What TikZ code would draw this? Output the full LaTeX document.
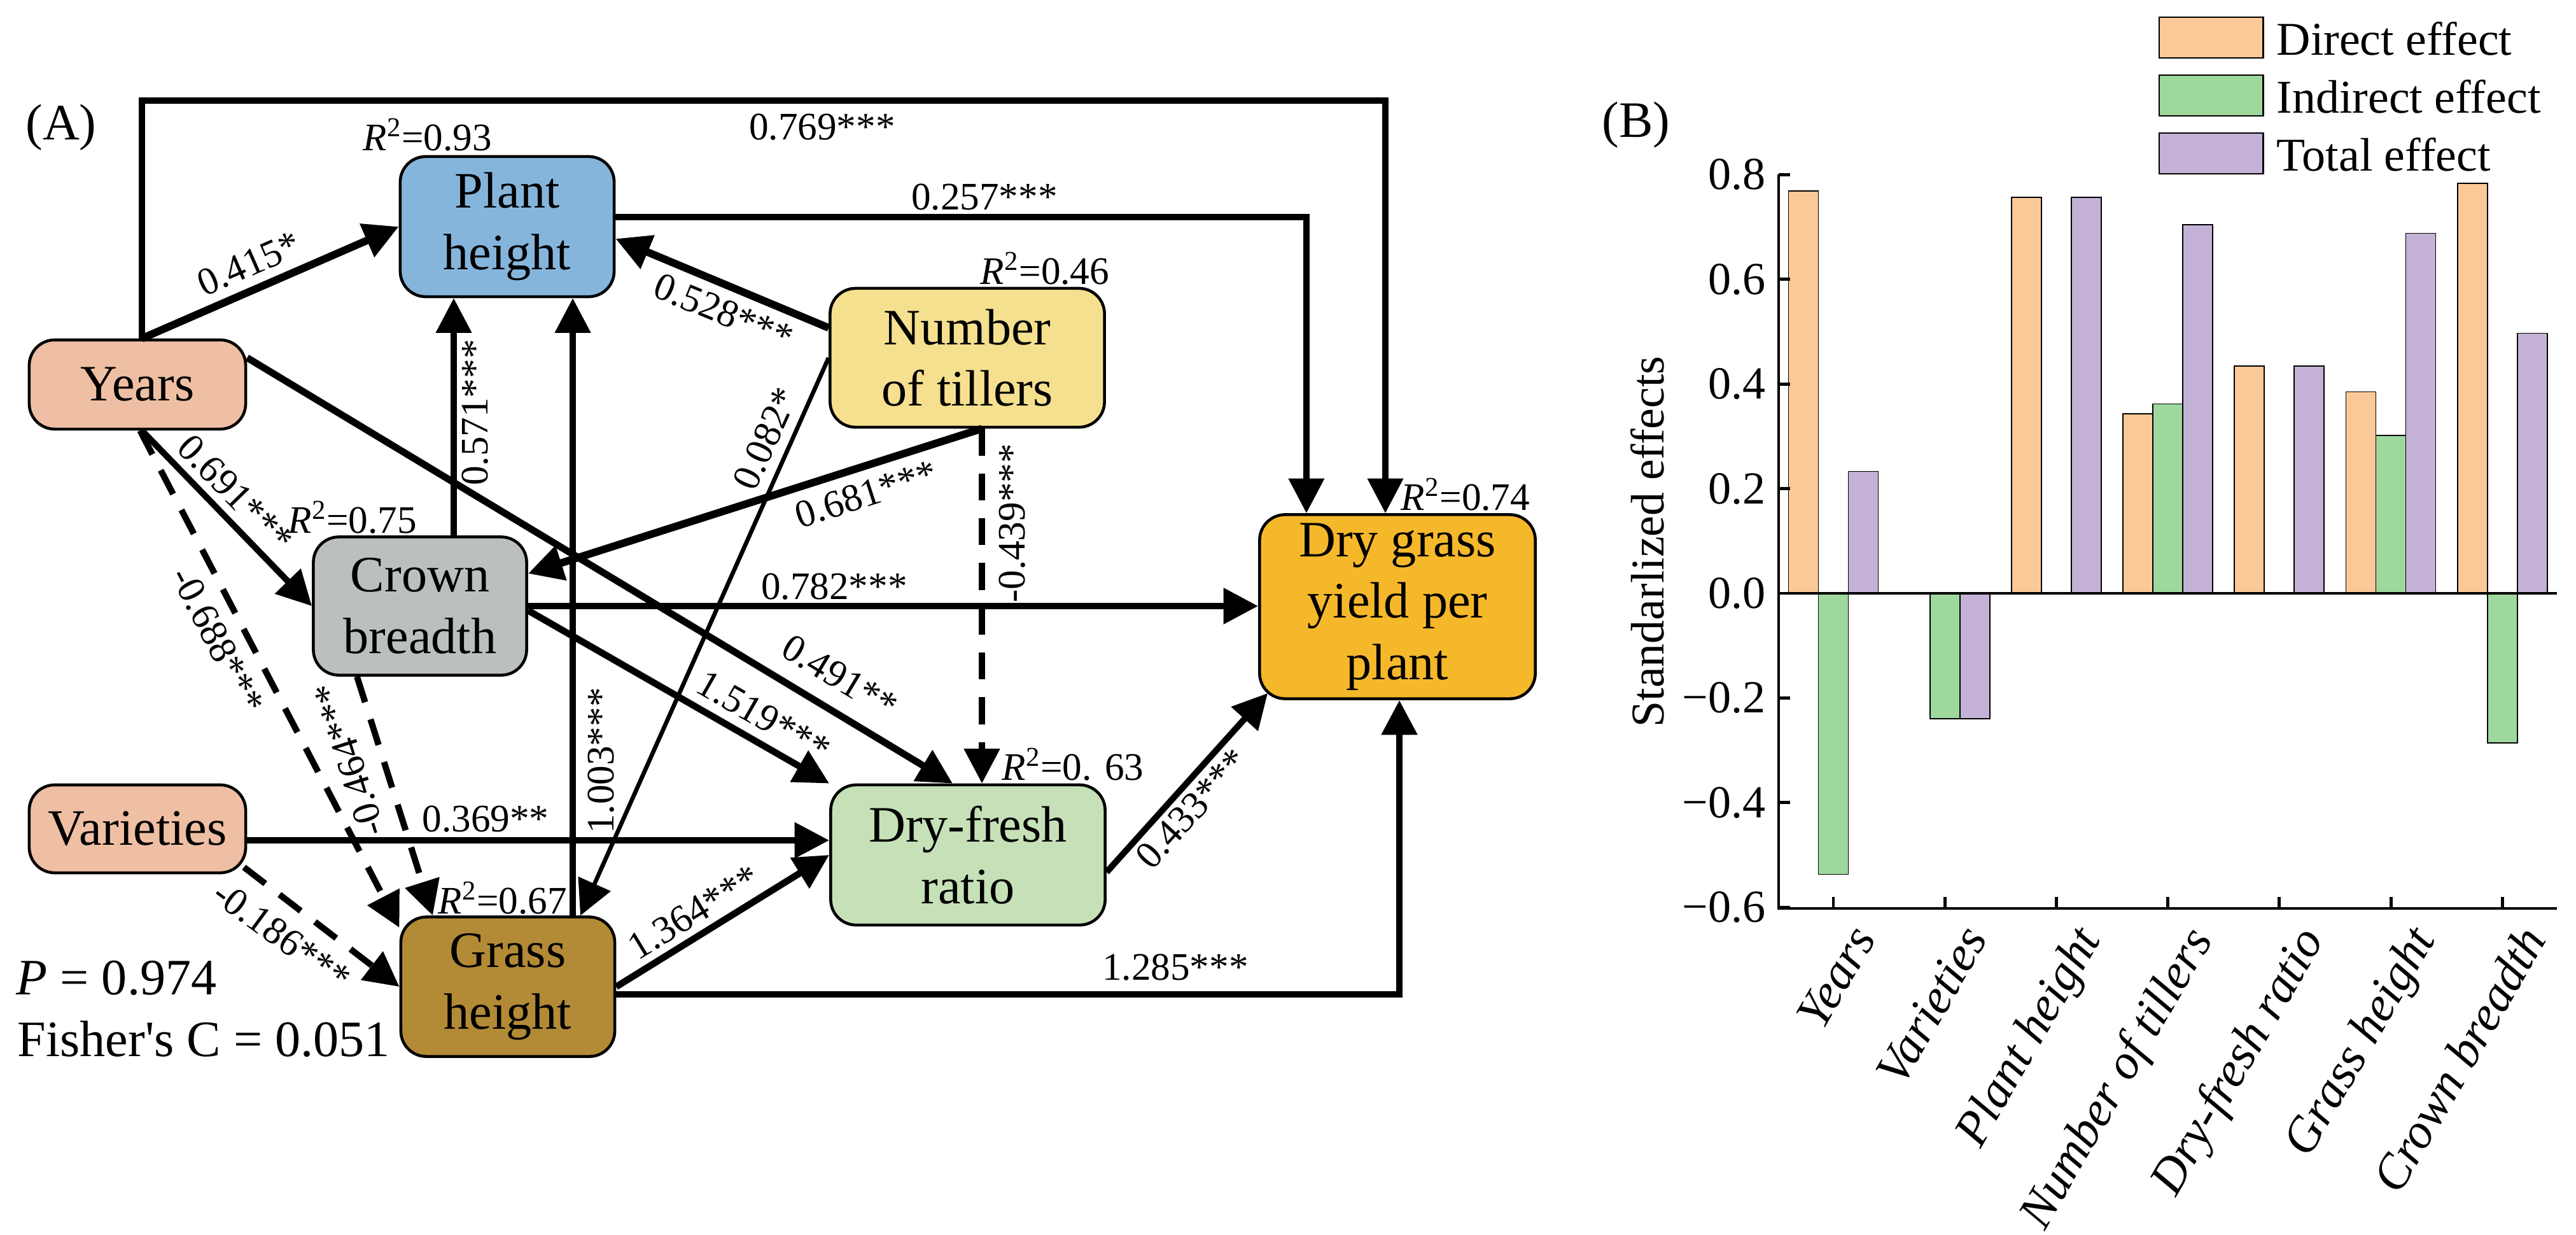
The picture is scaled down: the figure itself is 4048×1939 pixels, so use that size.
\documentclass[tikz,border=0pt]{standalone}
\usepackage{fontspec}
\setmainfont{Liberation Serif}[Ligatures=TeXOff]
\usetikzlibrary{arrows.meta}
\definecolor{cyrs}{RGB}{239,191,164}
\definecolor{cph}{RGB}{134,181,220}
\definecolor{cnt}{RGB}{245,224,143}
\definecolor{ccb}{RGB}{187,191,192}
\definecolor{cgh}{RGB}{179,138,53}
\definecolor{cdf}{RGB}{198,224,184}
\definecolor{cdg}{RGB}{246,184,43}
\definecolor{bdir}{RGB}{251,201,152}
\definecolor{bind}{RGB}{159,216,157}
\definecolor{btot}{RGB}{195,178,214}
\begin{document}
\begin{tikzpicture}[x=0.01cm,y=-0.01cm,
  box/.style={draw=black,line width=1.3pt,rounded corners=0.4cm,align=center,
    font=\fontsize{22.8}{27.4}\selectfont,inner sep=0pt},
  arr/.style={-{Triangle[length=15.5pt,width=15.5pt]},line width=#1},
  arr/.default=2.8pt,
  dsh/.style={dash pattern=on 12pt off 8pt},
  lab/.style={font=\fontsize{17.4}{20}\selectfont,inner sep=0pt},
  big/.style={font=\fontsize{22.8}{27}\selectfont,inner sep=0pt},
  tick/.style={font=\fontsize{20.5}{24}\selectfont,inner sep=0pt},
  bar/.style={draw=black,line width=0.5pt},
]
\useasboundingbox (0,0) rectangle (4048,1939);

% ---------------- Panel A nodes
\node[box,fill=cyrs,minimum width=3.40cm,minimum height=1.40cm] (yrs) at (216,604) {Years};
\node[box,fill=cyrs,minimum width=3.40cm,minimum height=1.38cm] (var) at (216,1302) {Varieties};
\node[box,fill=cph,minimum width=3.36cm,minimum height=2.20cm] (ph) at (797,356) {Plant\\height};
\node[box,fill=cnt,minimum width=4.31cm,minimum height=2.18cm] (nt) at (1520,562) {Number\\of tillers};
\node[box,fill=ccb,minimum width=3.35cm,minimum height=2.17cm] (cb) at (660,952) {Crown\\breadth};
\node[box,fill=cgh,minimum width=3.36cm,minimum height=2.19cm] (gh) at (798,1550) {Grass\\height};
\node[box,fill=cdf,minimum width=4.31cm,minimum height=2.20cm] (dfr) at (1521,1343) {Dry-fresh\\ratio};
\node[box,fill=cdg,minimum width=4.33cm,minimum height=2.89cm] (dgy) at (2196,953) {Dry grass\\yield per\\plant};

% helper coordinates
\coordinate (top) at (1000,158);
\coordinate (c571) at ([xshift=0.53cm]cb.north);
\coordinate (c1003) at ([xshift=1.02cm]gh.north);
\coordinate (c439) at ([xshift=0.23cm]nt.south);
\coordinate (c369) at ([yshift=-0.18cm]var.east);

% ---------------- Panel A connectors
\draw[arr=2.6pt] ([xshift=0.07cm]yrs.north) |- (top) -| ([xshift=-0.19cm]dgy.north);
\draw[arr=3.4pt] ([xshift=0.07cm]yrs.north) -- (ph.west);
\draw[arr=3.1pt] ([yshift=0.42cm]yrs.east) -- ([xshift=-0.24cm]dfr.north);
\draw[arr=2.8pt] ([xshift=0.07cm]yrs.south) -- (cb.west);
\draw[arr=2.8pt,dsh] ([xshift=0.04cm]yrs.south) -- ([yshift=-0.19cm]gh.north west);
\draw[arr=2.6pt] (c571) -- (c571 |- ph.south);
\draw[arr=2.6pt] (c1003) -- (c1003 |- ph.south);
\draw[arr=3.4pt] ([yshift=0.47cm]nt.west) -- ([yshift=-0.19cm]ph.east);
\draw[arr=3.4pt] (c439) -- ([yshift=0.51cm]cb.east);
\draw[arr=1.9pt] (nt.west) -- ([xshift=1.14cm]gh.north);
\draw[arr=2.8pt,dsh] (c439) -- (c439 |- dfr.north);
\draw[arr=3.1pt] (cb.east) -- (cb.east -| dgy.west);
\draw[arr=3.0pt] ([yshift=-0.07cm]cb.east) -- (dfr.north west);
\draw[arr=2.8pt,dsh] ([xshift=-0.99cm]cb.south) -- ([xshift=-1.18cm]gh.north);
\draw[arr=2.8pt] (c369) -- (c369 -| dfr.west);
\draw[arr=2.8pt,dsh] ([xshift=-0.05cm,yshift=0.11cm]var.south east) -- (gh.west);
\draw[arr=3.0pt] (gh.east) -- (dfr.west);
\draw[arr=3.0pt] ([yshift=-0.12cm]gh.east) -| ([xshift=0.03cm]dgy.south);
\draw[arr=2.6pt] ([yshift=0.15cm]ph.east) -| ([xshift=-1.43cm]dgy.north);
\draw[arr=2.8pt] ([yshift=-0.27cm]dfr.east) -- ([xshift=0.15cm,yshift=0.11cm]dgy.south west);

% ---------------- Panel A labels
\node[lab] (l769) at (1292,200) {0.769***};
\node[lab,rotate=23.7] (l415) at (391,414) {0.415*};
\node[lab,rotate=-31.1] (l491) at (1320,1063) {0.491**};
\node[lab,rotate=-45.8] (l691) at (370,775) {0.691***};
\node[lab,rotate=-62.5] (l688) at (342,1006) {-0.688***};
\node[lab,rotate=90] (l571) at (747,648) {0.571***};
\node[lab,rotate=90] (l1003) at (945,1195) {1.003***};
\node[lab,rotate=-22.4] (l528) at (1137,490) {0.528***};
\node[lab,rotate=17.8] (l681) at (1361,776) {0.681***};
\node[lab,rotate=65.8] (l082) at (1203,689) {0.082*};
\node[lab,rotate=90] (l439) at (1591,822) {-0.439***};
\node[lab] (l782) at (1311,922) {0.782***};
\node[lab,rotate=-29.8] (l1519) at (1200,1125) {1.519***};
\node[lab,rotate=107.4] (l464) at (549,1193) {-0.464***};
\node[lab] (l369) at (763,1287) {0.369**};
\node[lab,rotate=-36.3] (l186) at (443,1470) {-0.186***};
\node[lab,rotate=31.3] (l1364) at (1090,1433) {1.364***};
\node[lab] (l1285) at (1847,1520) {1.285***};
\node[lab] (l257) at (1547,310) {0.257***};
\node[lab,rotate=47.5] (l433) at (1873,1270) {0.433***};

\node[lab] (r93) at (672,212) {\textit{R}\textsuperscript{2}=0.93};
\node[lab] (r46) at (1642,422) {\textit{R}\textsuperscript{2}=0.46};
\node[lab] (r75) at (554,813) {\textit{R}\textsuperscript{2}=0.75};
\node[lab] (r74) at (2303,777) {\textit{R}\textsuperscript{2}=0.74};
\node[lab] (r63) at (1686,1201) {\textit{R}\textsuperscript{2}=0. 63};
\node[lab] (r67) at (790,1411) {\textit{R}\textsuperscript{2}=0.67};

\node[big] (pa) at (96,200) {(A)};
\node[big,anchor=west] (pval) at (25,1536) {\textit{P} = 0.974};
\node[big,anchor=west] (fish) at (27,1632) {Fisher's C = 0.051};

% ---------------- Panel B
\node[big] (pb) at (2571,196) {(B)};
% bars
\foreach \cx/\v in {2881/0.769,3231.4/0.757,3406.6/0.343,3581.8/0.434,3757/0.385,3932.2/0.783}
  \filldraw[bar,fill=bdir] ({\cx-70.5},932) rectangle ({\cx-23.5},{932-822*\v});
\foreach \cx/\v in {2881/-0.537,3056.2/-0.240,3406.6/0.362,3757/0.302,3932.2/-0.286}
  \filldraw[bar,fill=bind] ({\cx-23.5},932) rectangle ({\cx+23.5},{932-822*\v});
\foreach \cx/\v in {2881/0.233,3056.2/-0.240,3231.4/0.757,3406.6/0.704,3581.8/0.434,3757/0.688,3932.2/0.497}
  \filldraw[bar,fill=btot] ({\cx+23.5},932) rectangle ({\cx+70.5},{932-822*\v});
% axes
\draw[line width=1.4pt] (2795,274) -- (2795,1427) -- (4018,1427);
\draw[line width=1.4pt] (2795,932) -- (4018,932);
\foreach \v/\t in {0.8/0.8,0.6/0.6,0.4/0.4,0.2/0.2,0/0.0,-0.2/−0.2,-0.4/−0.4,-0.6/−0.6}{
  \draw[line width=1.4pt] (2795,{932-822*\v}) -- ++(18,0);
  \node[tick,anchor=east] (yt\t) at (2775,{932-822*\v}) {\t};
}
\foreach \i/\t in {0/Years,1/Varieties,2/Plant height,3/Number of tillers,4/Dry-fresh ratio,5/Grass height,6/Crown breadth}{
  \draw[line width=1.4pt] ({2881+175.2*\i},1427) -- ++(0,-18);
  \node[tick,font=\fontsize{22}{24}\selectfont\itshape,rotate=60,anchor=north east] (xt\i) at ({2881+175.2*\i+24},1448) {\t};
}
\node[tick,font=\fontsize{21}{24}\selectfont,rotate=90] (ytitle) at (2589,851) {Standarlized effects};
% legend
\node[draw=black,line width=0.8pt,fill=bdir,minimum width=1.63cm,minimum height=0.64cm,inner sep=0pt] (lg1) at (3474.5,59) {};
\node[draw=black,line width=0.8pt,fill=bind,minimum width=1.63cm,minimum height=0.64cm,inner sep=0pt] (lg2) at (3474.5,150) {};
\node[draw=black,line width=0.8pt,fill=btot,minimum width=1.63cm,minimum height=0.64cm,inner sep=0pt] (lg3) at (3474.5,241) {};
\node[tick,font=\fontsize{21}{24}\selectfont,anchor=west] (lt1) at (3577,61) {Direct effect};
\node[tick,font=\fontsize{21}{24}\selectfont,anchor=west] (lt2) at (3577,152) {Indirect effect};
\node[tick,font=\fontsize{21}{24}\selectfont,anchor=west] (lt3) at (3577,243) {Total effect};
\end{tikzpicture}
\end{document}
